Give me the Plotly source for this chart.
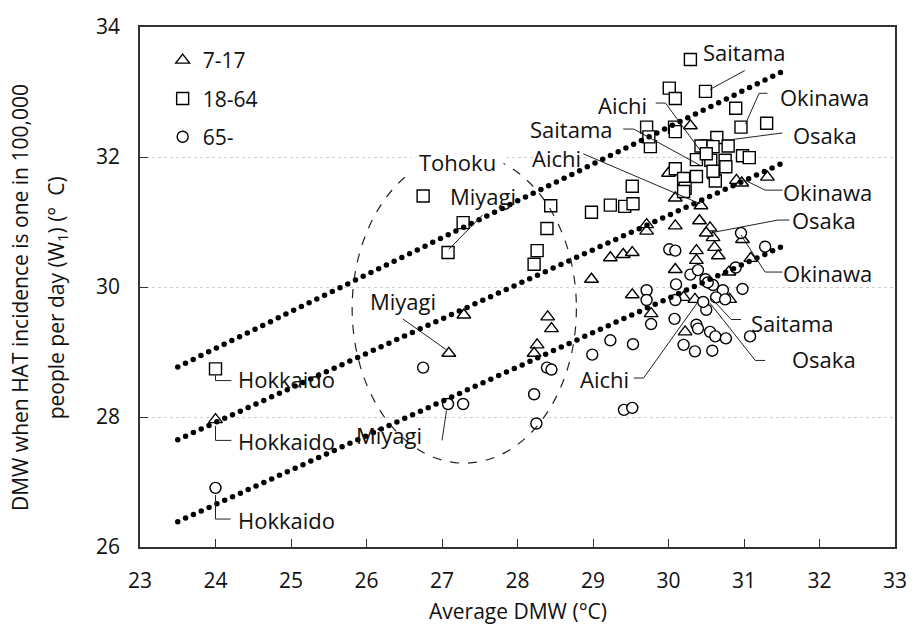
import plotly.graph_objects as go

# ---- data: prefecture points (average DMW vs. W1 threshold) ----
# 7-17 years (triangles)
youth_x = [24.00, 27.09, 27.29, 28.40, 28.45, 28.26, 28.22, 29.23, 29.40, 29.52,
           28.98, 29.71, 29.71, 30.09, 30.09, 30.43, 30.41, 30.55, 30.59, 30.50,
           30.61, 30.66, 30.37, 30.37, 30.09, 30.98, 31.09, 31.31, 30.90, 30.97,
           30.80, 29.52, 29.77, 30.20, 30.35, 30.81, 30.22, 30.29, 30.00]
youth_y = [27.96, 28.98, 29.57, 29.54, 29.36, 29.11, 28.98, 30.45, 30.50, 30.53,
           30.12, 30.96, 30.86, 31.37, 30.94, 31.25, 31.02, 30.91, 30.76, 30.83,
           30.61, 30.48, 30.56, 30.41, 30.27, 30.73, 30.44, 31.69, 31.64, 31.60,
           30.23, 29.88, 29.59, 29.84, 29.81, 29.81, 29.31, 32.48, 31.75]

# 18-64 years (squares)
adult_x = [24.00, 26.75, 27.28, 27.08, 28.44, 28.39, 28.26, 28.22, 28.98, 29.23,
           29.42, 29.53, 29.52, 30.29, 30.49, 30.01, 30.09, 30.89, 30.96, 31.30,
           29.71, 29.76, 29.74, 30.08, 30.09, 30.64, 30.50, 30.43, 30.79, 30.59,
           30.37, 30.56, 30.75, 30.98, 31.07, 30.09, 30.20, 30.37, 30.60, 30.76,
           30.22, 30.62, 30.59, 30.20, 30.50]
adult_y = [28.74, 31.40, 30.99, 30.53, 31.25, 30.90, 30.56, 30.35, 31.15, 31.26,
           31.24, 31.28, 31.55, 33.50, 33.01, 33.06, 32.90, 32.75, 32.46, 32.52,
           32.46, 32.16, 32.31, 32.46, 32.39, 32.30, 32.17, 32.17, 32.17, 32.16,
           31.96, 31.95, 31.95, 32.02, 31.99, 31.82, 31.67, 31.70, 31.76, 31.85,
           31.52, 31.63, 31.78, 31.47, 32.05]

# 65+ years (circles)
elder_x = [24.00, 26.75, 27.08, 27.28, 28.22, 28.25, 28.39, 28.45, 28.99, 29.23,
           29.53, 29.41, 29.52, 29.77, 30.08, 30.20, 30.35, 30.37, 30.39, 30.55,
           30.62, 30.76, 30.58, 31.08, 30.50, 30.01, 30.09, 30.29, 30.39, 30.49,
           30.10, 29.71, 29.71, 30.09, 30.59, 30.72, 30.98, 30.89, 31.28, 30.96,
           30.46, 30.63, 30.75, 30.52]
elder_y = [26.91, 28.76, 28.20, 28.20, 28.35, 27.90, 28.76, 28.73, 28.96, 29.18,
           29.12, 28.11, 28.14, 29.43, 29.51, 29.11, 29.01, 29.42, 29.36, 29.31,
           29.24, 29.21, 29.02, 29.24, 29.65, 30.58, 30.56, 30.19, 30.26, 30.12,
           30.04, 29.95, 29.80, 29.80, 30.03, 29.95, 29.97, 30.30, 30.62, 30.83,
           29.77, 29.84, 29.81, 30.07]

# regression lines (end points over the fitted range)
fit_x = [23.5, 31.5]
fit_youth = [27.65, 31.90]
fit_adult = [28.77, 33.31]
fit_elder = [26.39, 30.62]

x_ticks = list(range(23, 34))
y_ticks = [26, 28, 30, 32, 34]

# prefecture call-outs: text, text centre, leader polyline
callouts = [
    ("Saitama", 31.00, 33.62, [(31.01, 33.33), (30.55, 33.04)]),
    ("Aichi", 29.39, 32.80, [(29.83, 32.83), (29.96, 32.83), (30.42, 32.10)]),
    ("Saitama", 28.72, 32.43, [(29.40, 32.43), (29.54, 32.43), (30.42, 31.87)]),
    ("Osaka", 32.07, 32.34, [(31.51, 32.37), (30.72, 32.25)]),
    ("Okinawa", 32.06, 32.93, [(31.31, 32.98), (31.20, 32.98), (31.02, 32.51)]),
    ("Aichi", 28.52, 31.99, [(28.87, 32.05), (30.42, 31.28)]),
    ("Okinawa", 32.10, 31.46, [(31.51, 31.49), (31.28, 31.49), (31.02, 31.64)]),
    ("Osaka", 32.06, 31.03, [(31.60, 31.03), (31.45, 31.03), (30.59, 30.84)]),
    ("Hokkaido", 24.94, 27.63, [(24.00, 27.86), (24.00, 27.64), (24.21, 27.64)]),
    ("Miyagi", 26.48, 29.78, [(26.48, 29.51), (27.05, 29.04)]),
    ("Miyagi", 27.54, 31.40, [(27.54, 31.11), (27.09, 30.58)]),
    ("Hokkaido", 24.94, 28.58, [(24.00, 28.64), (24.00, 28.56), (24.21, 28.56)]),
    ("Okinawa", 32.10, 30.21, [(31.51, 30.23), (31.28, 30.23), (30.96, 30.80)]),
    ("Saitama", 31.64, 29.45, [(30.96, 29.50), (30.83, 29.50), (30.55, 29.85)]),
    ("Osaka", 32.06, 28.89, [(31.28, 28.87), (31.15, 28.87), (30.55, 29.75)]),
    ("Aichi", 29.15, 28.58, [(29.54, 28.60), (29.67, 28.60), (30.39, 29.77)]),
    ("Miyagi", 26.30, 27.72, [(27.06, 28.10), (27.00, 27.64)]),
    ("Hokkaido", 24.94, 26.41, [(24.00, 26.80), (24.00, 26.43), (24.20, 26.43)]),
]

# Tohoku region outline
tohoku = dict(x0=25.81, x1=28.78, y0=27.29, y1=32.05)

FONT = "Open Sans"
INK = "#111111"
LABEL_SIZE = 22

fig = go.Figure()

marker_line = dict(color="black", width=1.4)
fig.add_trace(go.Scatter(x=youth_x, y=youth_y, mode="markers", name="7-17",
                         legendgroup="a",
                         marker=dict(symbol="triangle-up", size=12, color="white", line=marker_line)))
fig.add_trace(go.Scatter(x=adult_x, y=adult_y, mode="markers", name="18-64",
                         legendgroup="b",
                         marker=dict(symbol="square", size=12, color="white", line=marker_line)))
fig.add_trace(go.Scatter(x=elder_x, y=elder_y, mode="markers", name="65-",
                         legendgroup="c",
                         marker=dict(symbol="circle", size=11, color="white", line=marker_line)))

# fitted lines drawn as round dots (zero-length dashes with round caps)
for fy in (fit_adult, fit_youth, fit_elder):
    fig.add_trace(go.Scatter(x=fit_x, y=fy, mode="lines", showlegend=False,
                             hoverinfo="skip",
                             line=dict(color="black", width=5.5, dash="0px,8.6px")))

shapes = [dict(type="circle", xref="x", yref="y", layer="above",
               line=dict(color="#222222", width=1.2, dash="dash"), **tohoku)]
annotations = []
for text, tx, ty, path in callouts:
    annotations.append(dict(x=tx, y=ty, xref="x", yref="y", text=text, showarrow=False,
                            xanchor="center", yanchor="middle",
                            font=dict(family=FONT, size=LABEL_SIZE, color=INK)))
    d = "M" + " L".join(f"{px},{py}" for px, py in path)
    shapes.append(dict(type="path", xref="x", yref="y", path=d,
                       line=dict(color="#222222", width=1)))

annotations.append(dict(x=27.21, y=31.93, xref="x", yref="y", text="Tohoku",
                        showarrow=False, bgcolor="white", borderpad=7,
                        font=dict(family=FONT, size=LABEL_SIZE, color=INK)))

# axis titles
annotations.append(dict(x=0.5, y=-0.124, xref="paper", yref="paper", showarrow=False,
                        text="Average DMW (°C)", xanchor="center", yanchor="middle",
                        font=dict(family=FONT, size=21, color=INK)))
annotations.append(dict(x=-0.158, y=0.48, xref="paper", yref="paper", showarrow=False,
                        text="DMW when HAT incidence is one in 100,000", textangle=-90,
                        xanchor="center", yanchor="middle",
                        font=dict(family=FONT, size=21, color=INK)))
annotations.append(dict(x=-0.11, y=0.48, xref="paper", yref="paper", showarrow=False,
                        text="people per day (W<sub>1</sub>) (°  C)", textangle=-90,
                        xanchor="center", yanchor="middle",
                        font=dict(family=FONT, size=21, color=INK)))

axis_common = dict(showline=True, linecolor="#333333", linewidth=1.5, mirror=True,
                   ticks="inside", ticklen=8, tickwidth=1.3, tickcolor="#333333",
                   tickfont=dict(family=FONT, size=21, color=INK), zeroline=False)

fig.update_layout(
    width=919, height=626,
    margin=dict(l=140, r=15, t=22, b=79),
    paper_bgcolor="white", plot_bgcolor="white",
    xaxis=dict(range=[23, 33], tickvals=x_ticks, showgrid=False,
               ticklabelstandoff=14, **axis_common),
    yaxis=dict(range=[26, 34], tickvals=y_ticks, showgrid=True, gridcolor="#d0d0d0",
               griddash="dot", gridwidth=1, ticklabelstandoff=14, **axis_common),
    showlegend=True,
    legend=dict(x=0.03, y=0.975, xanchor="left", yanchor="top", bgcolor="rgba(0,0,0,0)",
                font=dict(family=FONT, size=21, color=INK), tracegroupgap=8,
                itemsizing="trace"),
    shapes=shapes,
    annotations=annotations,
    hovermode=False,
)

round_caps = ("var s=document.createElement('style');"
              "s.textContent='.scatterlayer .trace path.js-line{stroke-linecap:round}';"
              "document.head.appendChild(s);")
fig.write_html("out.html", post_script=round_caps)
